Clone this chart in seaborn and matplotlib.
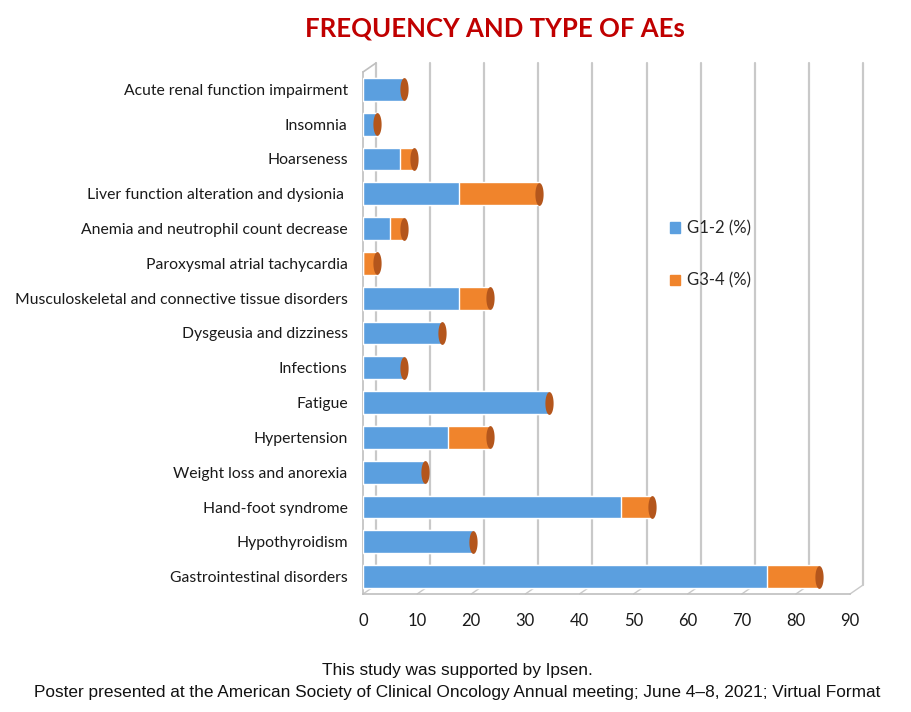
import numpy as np
import pandas as pd
import seaborn as sns
import matplotlib.pyplot as plt
import matplotlib.transforms as mtransforms
from matplotlib.patches import Patch
from matplotlib.path import Path

events = [
    "Acute renal function impairment",
    "Insomnia",
    "Hoarseness",
    "Liver function alteration and dysionia ",
    "Anemia and neutrophil count decrease",
    "Paroxysmal atrial tachycardia",
    "Musculoskeletal and connective tissue disorders",
    "Dysgeusia and dizziness",
    "Infections",
    "Fatigue",
    "Hypertension",
    "Weight loss and anorexia",
    "Hand-foot syndrome",
    "Hypothyroidism",
    "Gastrointestinal disorders",
]
g12 = [7.6, 2.6, 6.9, 17.7, 4.9, 0.0, 17.7, 14.6, 7.6, 34.4, 15.7, 11.5, 47.7, 20.3, 74.7]
g34 = [0.0, 0.0, 2.6, 14.8, 2.7, 2.6, 5.8, 0.0, 0.0, 0.0, 7.8, 0.0, 5.7, 0.0, 9.6]
xticks = list(range(0, 100, 10))

BLUE = "#5B9FDF"
ORANGE = "#F0842C"
CAP = "#B4561C"
GRID = "#C9C9C9"

df = pd.DataFrame({"event": events, "G1-2 (%)": g12, "G3-4 (%)": g34})
df["total"] = df["G1-2 (%)"] + df["G3-4 (%)"]

sns.set_theme(style="white")
plt.rcParams["font.family"] = ["Lato", "DejaVu Sans"]

fig = plt.figure(figsize=(9.12, 7.12), dpi=100)
ax = fig.add_axes([363 / 912, 1 - 594 / 712, 487 / 912, (594 - 72) / 712])

# stacked bars: totals in orange, G1-2 drawn over them
sns.barplot(data=df, y="event", x="total", color=ORANGE, saturation=1,
            width=0.65, orient="h", ax=ax, zorder=3)
sns.barplot(data=df, y="event", x="G1-2 (%)", color=BLUE, saturation=1,
            width=0.65, orient="h", ax=ax, zorder=4)

# cylinder end caps
t = np.linspace(0, 2 * np.pi, 64)
cap = Path(np.column_stack([0.36 * np.cos(t), np.sin(t)]), closed=True)
ax.scatter(df["total"], np.arange(len(df)), marker=cap, s=270, color=CAP,
           linewidths=0, zorder=5)

ax.set_xlim(0, 90)
ax.set_ylim(len(df) - 0.5, -0.5)
ax.set_xticks(xticks)
ax.set_xlabel("")
ax.set_ylabel("")
ax.tick_params(axis="x", length=0, pad=14, labelsize=12, colors="#1a1a1a")
ax.tick_params(axis="y", length=0, pad=11, labelsize=11.3, colors="#1a1a1a")
for s in ["top", "right"]:
    ax.spines[s].set_visible(False)
for s in ["left", "bottom"]:
    ax.spines[s].set_color("#BFBFBF")
    ax.spines[s].set_linewidth(1.2)

# pseudo-3D back wall and floor
off = mtransforms.ScaledTranslation(0.13, 0.09, fig.dpi_scale_trans)
back = ax.get_xaxis_transform() + off
front = ax.get_xaxis_transform()
for x in xticks:
    ax.plot([x, x], [0, 1], transform=back, color=GRID, lw=1.6, zorder=1, clip_on=False)
    p0 = front.transform((x, 0))
    p1 = back.transform((x, 0))
    ax.plot([p0[0], p1[0]], [p0[1], p1[1]], transform=None, color=GRID, lw=1.0,
            zorder=1, clip_on=False)
p0 = front.transform((0, 1))
p1 = back.transform((0, 1))
ax.plot([p0[0], p1[0]], [p0[1], p1[1]], transform=None, color="#BFBFBF", lw=1.2,
        zorder=1, clip_on=False)

fig.text(495 / 912, 1 - 28 / 712, "FREQUENCY AND TYPE OF AEs", ha="center", va="center",
         fontsize=18.5, fontweight="bold", color="#C00000")

fig.legend(handles=[Patch(color=BLUE, label="G1-2 (%)"), Patch(color=ORANGE, label="G3-4 (%)")],
           loc="upper left", bbox_to_anchor=(655 / 912, 1 - 205 / 712), frameon=False,
           handlelength=0.6, handleheight=0.6, handletextpad=0.4, labelspacing=2.2,
           fontsize=12)

foot = dict(ha="center", va="center", fontsize=12.4, family="Liberation Sans", color="#111111")
fig.text(457 / 912, 1 - 670 / 712, "This study was supported by Ipsen.", **foot)
fig.text(457 / 912, 1 - 692 / 712,
         "Poster presented at the American Society of Clinical Oncology Annual meeting; June 4\u20138, 2021; Virtual Format",
         **foot)

fig.savefig("out.png", dpi=100, facecolor="white")
